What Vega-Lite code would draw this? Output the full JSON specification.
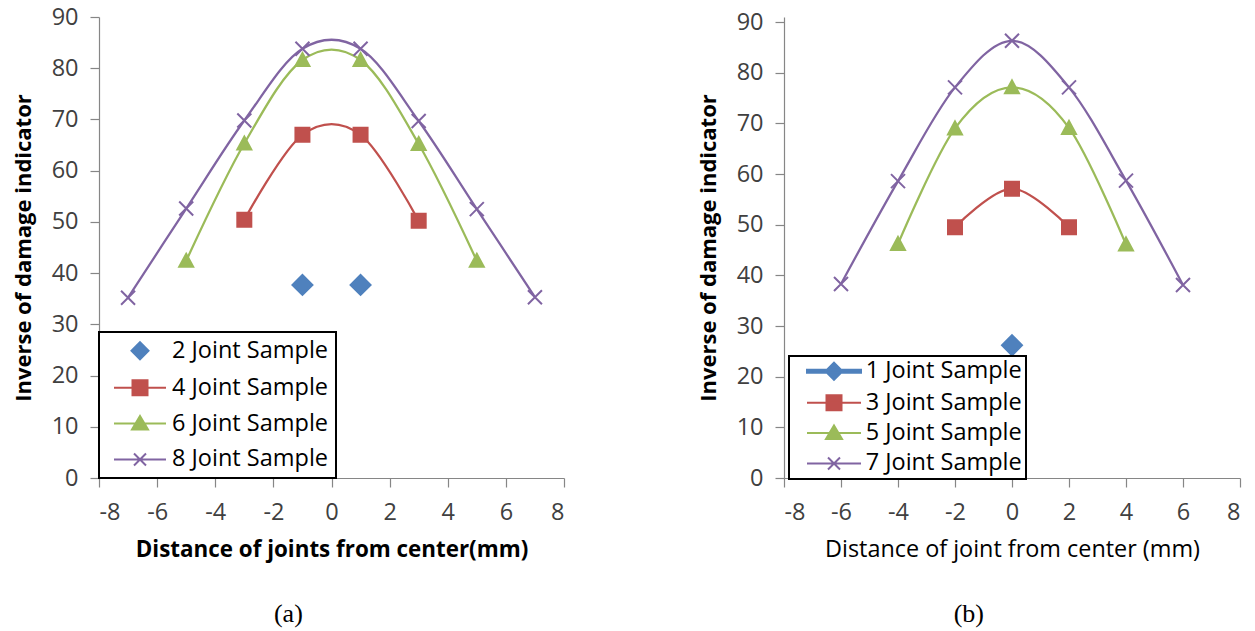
{
  "$schema": "https://vega.github.io/schema/vega-lite/v6.json",
  "padding": {"left": 12, "top": 5, "right": 3, "bottom": 5},
  "background": "white",
  "datasets": {
    "a": [
      {"x": -1, "y": 37.7, "series": "2 Joint Sample"},
      {"x": 1, "y": 37.7, "series": "2 Joint Sample"},
      {"x": -3, "y": 50.4, "series": "4 Joint Sample"},
      {"x": -1, "y": 67.0, "series": "4 Joint Sample"},
      {"x": 1, "y": 67.0, "series": "4 Joint Sample"},
      {"x": 3, "y": 50.2, "series": "4 Joint Sample"},
      {"x": -5, "y": 42.4, "series": "6 Joint Sample"},
      {"x": -3, "y": 65.3, "series": "6 Joint Sample"},
      {"x": -1, "y": 81.6, "series": "6 Joint Sample"},
      {"x": 1, "y": 81.6, "series": "6 Joint Sample"},
      {"x": 3, "y": 65.2, "series": "6 Joint Sample"},
      {"x": 5, "y": 42.4, "series": "6 Joint Sample"},
      {"x": -7, "y": 35.2, "series": "8 Joint Sample"},
      {"x": -5, "y": 52.6, "series": "8 Joint Sample"},
      {"x": -3, "y": 69.8, "series": "8 Joint Sample"},
      {"x": -1, "y": 83.8, "series": "8 Joint Sample"},
      {"x": 1, "y": 83.8, "series": "8 Joint Sample"},
      {"x": 3, "y": 69.7, "series": "8 Joint Sample"},
      {"x": 5, "y": 52.5, "series": "8 Joint Sample"},
      {"x": 7, "y": 35.3, "series": "8 Joint Sample"}
    ],
    "b": [
      {"x": 0, "y": 26.2, "series": "1 Joint Sample"},
      {"x": -2, "y": 49.5, "series": "3 Joint Sample"},
      {"x": 0, "y": 57.1, "series": "3 Joint Sample"},
      {"x": 2, "y": 49.5, "series": "3 Joint Sample"},
      {"x": -4, "y": 46.2, "series": "5 Joint Sample"},
      {"x": -2, "y": 69.0, "series": "5 Joint Sample"},
      {"x": 0, "y": 77.1, "series": "5 Joint Sample"},
      {"x": 2, "y": 69.1, "series": "5 Joint Sample"},
      {"x": 4, "y": 46.1, "series": "5 Joint Sample"},
      {"x": -6, "y": 38.3, "series": "7 Joint Sample"},
      {"x": -4, "y": 58.6, "series": "7 Joint Sample"},
      {"x": -2, "y": 77.1, "series": "7 Joint Sample"},
      {"x": 0, "y": 86.3, "series": "7 Joint Sample"},
      {"x": 2, "y": 77.1, "series": "7 Joint Sample"},
      {"x": 4, "y": 58.7, "series": "7 Joint Sample"},
      {"x": 6, "y": 38.1, "series": "7 Joint Sample"}
    ]
  },
  "config": {
    "view": {"stroke": null},
    "concat": {"spacing": 220},
    "legend": {"strokeWidth": 2},
    "axis": {
      "domainColor": "#868686",
      "domainWidth": 1.2,
      "tickColor": "#868686",
      "tickWidth": 1.2,
      "tickSize": 9,
      "grid": false,
      "labelFont": "Open Sans",
      "labelFontSize": 23.5,
      "labelColor": "#404040",
      "titleFont": "Open Sans",
      "titleFontSize": 22,
      "titleColor": "#000000",
      "titleFontWeight": "bold"
    }
  },
  "bounds": "flush",
  "hconcat": [
    {
      "width": 465,
      "height": 461,
      "title": {"text": "(a)", "orient": "bottom", "anchor": "middle", "frame": "bounds", "font": "Liberation Serif", "fontSize": 26, "fontWeight": "normal", "color": "#000000", "offset": 40},
      "layer": [
        {
          "data": {"name": "a"},
          "transform": [{"filter": {"field": "series", "oneOf": ["4 Joint Sample", "6 Joint Sample", "8 Joint Sample"]}}],
          "mark": {"type": "line", "interpolate": "cardinal", "strokeWidth": 2.25},
          "encoding": {
            "x": {"field": "x", "type": "quantitative", "scale": {"domain": [-8, 8], "nice": false}, "axis": {"values": [-8, -6, -4, -2, 0, 2, 4, 6, 8], "labelExpr": "'' + datum.value", "labelPadding": 13, "titlePadding": 15, "titleFontSize": 22.4, "title": "Distance of joints from center(mm)"}},
            "y": {"field": "y", "type": "quantitative", "scale": {"domain": [0, 90], "nice": false}, "axis": {"values": [0, 10, 20, 30, 40, 50, 60, 70, 80, 90], "labelPadding": 12, "titlePadding": 16, "title": "Inverse of damage indicator"}},
            "stroke": {"field": "series", "type": "nominal", "scale": {"domain": ["2 Joint Sample", "4 Joint Sample", "6 Joint Sample", "8 Joint Sample"], "range": ["#4F81BD", "#C0504D", "#9BBB59", "#8064A2"]}, "legend": null}
          }
        },
        {
          "data": {"name": "a"},
          "mark": {"type": "point", "filled": true, "size": 400, "strokeWidth": 2, "opacity": 1},
          "encoding": {
            "x": {"field": "x", "type": "quantitative"},
            "y": {"field": "y", "type": "quantitative"},
            "fill": {"field": "series", "type": "nominal", "scale": {"domain": ["2 Joint Sample", "4 Joint Sample", "6 Joint Sample", "8 Joint Sample"], "range": ["#4F81BD", "#C0504D", "#9BBB59", "#8064A2"]}, "legend": null},
            "stroke": {"field": "series", "type": "nominal", "scale": {"domain": ["2 Joint Sample", "4 Joint Sample", "6 Joint Sample", "8 Joint Sample"], "range": ["#4F81BD", "#C0504D", "#9BBB59", "#8064A2"]}, "legend": null},
            "shape": {"field": "series", "type": "nominal", "scale": {"domain": ["2 Joint Sample", "4 Joint Sample", "6 Joint Sample", "8 Joint Sample"], "range": ["M0,-1L1,0L0,1L-1,0Z", "M-0.7,-0.7H0.7V0.7H-0.7Z", "M0,-0.7L0.7,0.6L-0.7,0.6Z", "M-0.7,-0.7L0.7,0.7M-0.7,0.7L0.7,-0.7"]}, "legend": null}
          }
        },
        {
          "data": {"name": "a"},
          "transform": [{"filter": {"field": "x", "equal": 999}}],
          "mark": {"type": "point", "filled": true, "strokeWidth": 2, "opacity": 1},
          "encoding": {
            "x": {"field": "x", "type": "quantitative"},
            "y": {"field": "y", "type": "quantitative"},
            "fill": {"field": "series", "type": "nominal", "scale": {"domain": ["2 Joint Sample", "4 Joint Sample", "6 Joint Sample", "8 Joint Sample"], "range": ["#4F81BD", "#C0504D", "#9BBB59", "#8064A2"]},
              "legend": {"orient": "none", "legendX": 0, "legendY": 315, "title": null, "padding": 7, "symbolOffset": 22.25, "labelOffset": 20.25, "rowPadding": 10.9, "symbolSize": 400, "symbolStrokeWidth": 2, "strokeColor": "#000000", "fillColor": "#ffffff", "labelFont": "Open Sans", "labelFontSize": 23.5, "labelColor": "#000000", "labelLimit": 0, "labelExpr": "datum.label + '\u00a0'"}},
            "stroke": {"field": "series", "type": "nominal", "scale": {"domain": ["2 Joint Sample", "4 Joint Sample", "6 Joint Sample", "8 Joint Sample"], "range": ["#4F81BD", "#C0504D", "#9BBB59", "#8064A2"]},
              "legend": {"orient": "none", "legendX": 0, "legendY": 315, "title": null, "padding": 7, "symbolOffset": 22.25, "labelOffset": 20.25, "rowPadding": 10.9, "symbolSize": 400, "symbolStrokeWidth": 2, "strokeColor": "#000000", "fillColor": "#ffffff", "labelFont": "Open Sans", "labelFontSize": 23.5, "labelColor": "#000000", "labelLimit": 0, "labelExpr": "datum.label + '\u00a0'"}},
            "shape": {"field": "series", "type": "nominal", "scale": {"domain": ["2 Joint Sample", "4 Joint Sample", "6 Joint Sample", "8 Joint Sample"], "range": ["M0,-0.85L0.85,0L0,0.85L-0.85,0Z", "M-2.6,0H2.6M-0.75,-0.75H0.75V0.75H-0.75Z", "M-2.6,0H2.6M0,-0.75L0.8,0.6L-0.8,0.6Z", "M-2.6,0H2.6M-0.6,-0.6L0.6,0.6M-0.6,0.6L0.6,-0.6"]},
              "legend": {"orient": "none", "legendX": 0, "legendY": 315, "title": null, "padding": 7, "symbolOffset": 22.25, "labelOffset": 20.25, "rowPadding": 10.9, "symbolSize": 400, "symbolStrokeWidth": 2, "strokeColor": "#000000", "fillColor": "#ffffff", "labelFont": "Open Sans", "labelFontSize": 23.5, "labelColor": "#000000", "labelLimit": 0, "labelExpr": "datum.label + '\u00a0'"}}
          }
        }
      ],
      "resolve": {"scale": {"shape": "independent", "fill": "independent", "stroke": "independent"}}
    },
    {
      "width": 456,
      "height": 461,
      "title": {"text": "(b)", "orient": "bottom", "anchor": "middle", "frame": "bounds", "font": "Liberation Serif", "fontSize": 26, "fontWeight": "normal", "color": "#000000", "offset": 40},
      "layer": [
        {
          "data": {"name": "b"},
          "transform": [{"filter": {"field": "series", "oneOf": ["3 Joint Sample", "5 Joint Sample", "7 Joint Sample"]}}],
          "mark": {"type": "line", "interpolate": "cardinal", "strokeWidth": 2.25},
          "encoding": {
            "x": {"field": "x", "type": "quantitative", "scale": {"domain": [-8, 8], "nice": false}, "axis": {"values": [-8, -6, -4, -2, 0, 2, 4, 6, 8], "labelExpr": "'' + datum.value", "labelPadding": 13, "titlePadding": 15, "titleFontSize": 23.4, "title": "Distance of joint from center (mm)", "titleFontWeight": "normal"}},
            "y": {"field": "y", "type": "quantitative", "scale": {"domain": [0, 90.99], "nice": false}, "axis": {"values": [0, 10, 20, 30, 40, 50, 60, 70, 80, 90], "labelPadding": 12, "titlePadding": 16, "title": "Inverse of damage indicator"}},
            "stroke": {"field": "series", "type": "nominal", "scale": {"domain": ["1 Joint Sample", "3 Joint Sample", "5 Joint Sample", "7 Joint Sample"], "range": ["#4F81BD", "#C0504D", "#9BBB59", "#8064A2"]}, "legend": null}
          }
        },
        {
          "data": {"name": "b"},
          "mark": {"type": "point", "filled": true, "size": 400, "strokeWidth": 2, "opacity": 1},
          "encoding": {
            "x": {"field": "x", "type": "quantitative"},
            "y": {"field": "y", "type": "quantitative"},
            "fill": {"field": "series", "type": "nominal", "scale": {"domain": ["1 Joint Sample", "3 Joint Sample", "5 Joint Sample", "7 Joint Sample"], "range": ["#4F81BD", "#C0504D", "#9BBB59", "#8064A2"]}, "legend": null},
            "stroke": {"field": "series", "type": "nominal", "scale": {"domain": ["1 Joint Sample", "3 Joint Sample", "5 Joint Sample", "7 Joint Sample"], "range": ["#4F81BD", "#C0504D", "#9BBB59", "#8064A2"]}, "legend": null},
            "shape": {"field": "series", "type": "nominal", "scale": {"domain": ["1 Joint Sample", "3 Joint Sample", "5 Joint Sample", "7 Joint Sample"], "range": ["M0,-1L1,0L0,1L-1,0Z", "M-0.7,-0.7H0.7V0.7H-0.7Z", "M0,-0.7L0.7,0.6L-0.7,0.6Z", "M-0.7,-0.7L0.7,0.7M-0.7,0.7L0.7,-0.7"]}, "legend": null}
          }
        },
        {
          "data": {"name": "b"},
          "transform": [{"filter": {"field": "x", "equal": 999}}],
          "mark": {"type": "point", "filled": true, "strokeWidth": 2, "opacity": 1},
          "encoding": {
            "x": {"field": "x", "type": "quantitative"},
            "y": {"field": "y", "type": "quantitative"},
            "fill": {"field": "series", "type": "nominal", "scale": {"domain": ["1 Joint Sample", "3 Joint Sample", "5 Joint Sample", "7 Joint Sample"], "range": ["#4F81BD", "#C0504D", "#9BBB59", "#8064A2"]},
              "legend": {"orient": "none", "legendX": 5, "legendY": 339, "title": null, "padding": 3.5, "symbolOffset": 29.75, "labelOffset": 19.95, "rowPadding": 5.4, "symbolSize": 400, "symbolStrokeWidth": 2, "strokeColor": "#000000", "fillColor": "#ffffff", "labelFont": "Open Sans", "labelFontSize": 23.5, "labelColor": "#000000", "labelLimit": 0, "labelExpr": "datum.label + '\u00a0\u00a0'"}},
            "stroke": {"field": "series", "type": "nominal", "scale": {"domain": ["1 Joint Sample", "3 Joint Sample", "5 Joint Sample", "7 Joint Sample"], "range": ["#4F81BD", "#C0504D", "#9BBB59", "#8064A2"]},
              "legend": {"orient": "none", "legendX": 5, "legendY": 339, "title": null, "padding": 3.5, "symbolOffset": 29.75, "labelOffset": 19.95, "rowPadding": 5.4, "symbolSize": 400, "symbolStrokeWidth": 2, "strokeColor": "#000000", "fillColor": "#ffffff", "labelFont": "Open Sans", "labelFontSize": 23.5, "labelColor": "#000000", "labelLimit": 0, "labelExpr": "datum.label + '\u00a0\u00a0'"}},
            "shape": {"field": "series", "type": "nominal", "scale": {"domain": ["1 Joint Sample", "3 Joint Sample", "5 Joint Sample", "7 Joint Sample"], "range": ["M-2.7,-0.15H2.7V0.15H-2.7Z M0,-0.85L0.85,0L0,0.85L-0.85,0Z", "M-2.7,0H2.7M-0.75,-0.75H0.75V0.75H-0.75Z", "M-2.7,0H2.7M0,-0.75L0.8,0.6L-0.8,0.6Z", "M-2.7,0H2.7M-0.6,-0.6L0.6,0.6M-0.6,0.6L0.6,-0.6"]},
              "legend": {"orient": "none", "legendX": 5, "legendY": 339, "title": null, "padding": 3.5, "symbolOffset": 29.75, "labelOffset": 19.95, "rowPadding": 5.4, "symbolSize": 400, "symbolStrokeWidth": 2, "strokeColor": "#000000", "fillColor": "#ffffff", "labelFont": "Open Sans", "labelFontSize": 23.5, "labelColor": "#000000", "labelLimit": 0, "labelExpr": "datum.label + '\u00a0\u00a0'"}}
          }
        }
      ],
      "resolve": {"scale": {"shape": "independent", "fill": "independent", "stroke": "independent"}}
    }
  ]
}
